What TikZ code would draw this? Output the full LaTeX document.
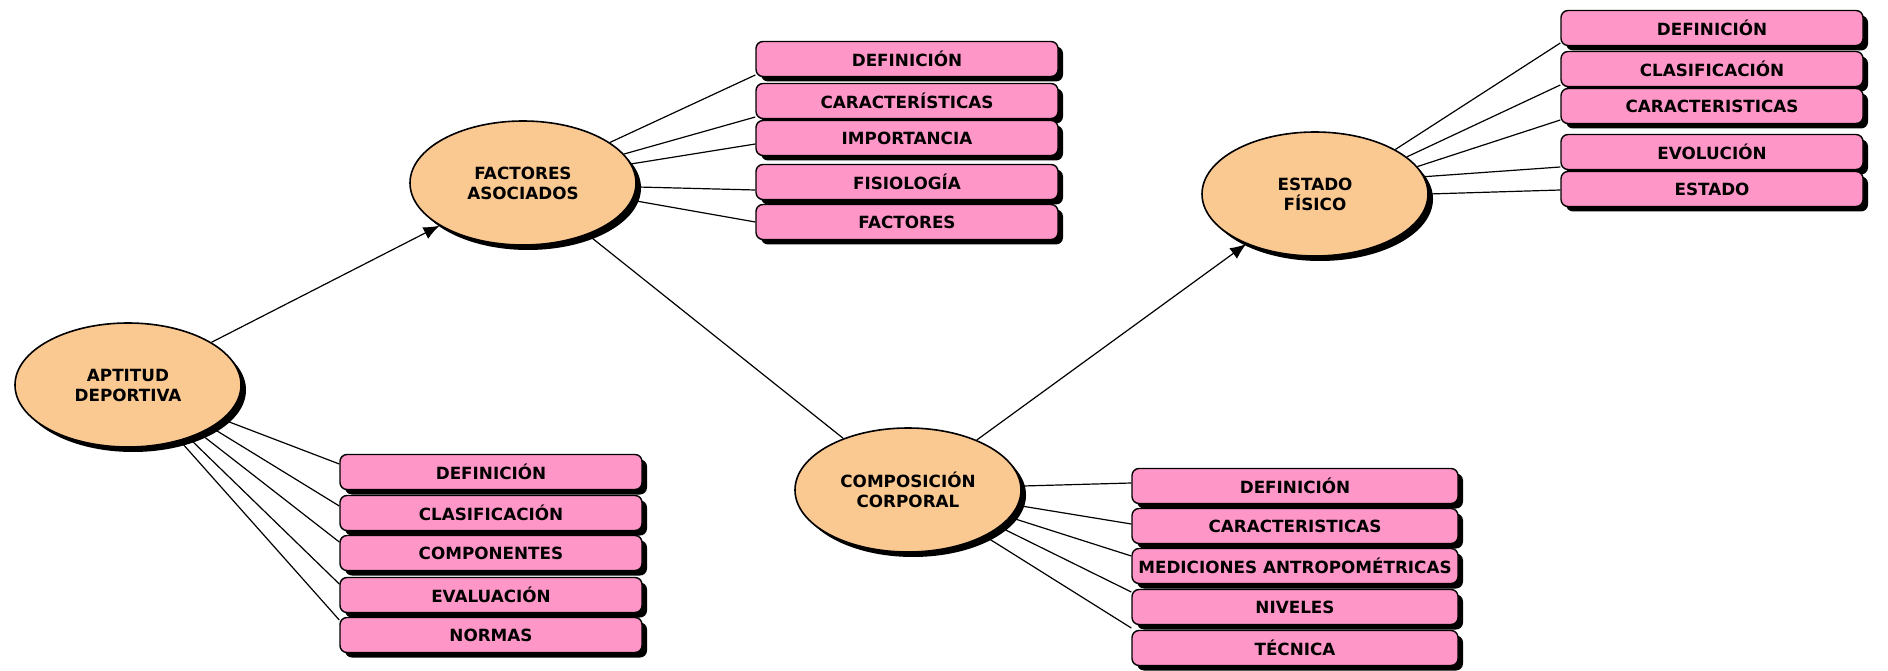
\documentclass[tikz,border=0pt]{standalone}
\usepackage{fontspec}
\setmainfont{DejaVu Sans}
\usepackage{tikz}
\usetikzlibrary{arrows.meta,positioning,shapes.geometric,calc,shadows}
\definecolor{durazno}{RGB}{250,200,145}
\definecolor{rosa}{RGB}{255,150,200}

\begin{document}
\begin{tikzpicture}[x=0.5pt, y=0.5pt, >={Latex[length=8pt,width=6.5pt]}, line width=0.6pt,
  every node/.style={font=\fontsize{8.4}{10}\selectfont\bfseries, align=center},
  sombra/.style={drop shadow={shadow xshift=2.5pt, shadow yshift=-2.5pt, fill=black, opacity=1}},
  tema/.style={ellipse, draw, line width=0.8pt, fill=durazno, minimum width=113pt, minimum height=62pt, inner sep=0pt, sombra},
  item/.style={draw, line width=0.7pt, rounded corners=3.5pt, fill=rosa, minimum width=151pt, minimum height=17.5pt, inner sep=1pt, sombra}]
\useasboundingbox (0,0) rectangle (1888,670);

% temas
\node (apt) [tema] at (128,285) {APTITUD\\DEPORTIVA};
\node (fac) [tema] at (523,487) {FACTORES\\ASOCIADOS};
\node (com) [tema] at (908,180) {COMPOSICIÓN\\CORPORAL};
\node (est) [tema] at (1315,476) {ESTADO\\FÍSICO};

\draw[->] (apt) -- (fac);
\draw (fac) -- (com);
\draw[->] (com) -- (est);

% aptitud deportiva
\node (apt1) [item] at (491,198) {DEFINICIÓN};
\node (apt2) [item] at (491,157) {CLASIFICACIÓN};
\node (apt3) [item] at (491,117) {COMPONENTES};
\node (apt4) [item] at (491,75) {EVALUACIÓN};
\node (apt5) [item] at (491,35) {NORMAS};
\draw (apt.-20) -- ($(apt1.west)+(0,8)$);
\draw (apt.-27) -- ($(apt2.west)+(0,7)$);
\draw (apt.-34) -- ($(apt3.west)+(0,11)$);
\draw (apt.-41) -- ($(apt4.west)+(0,11)$);
\draw (apt.-47) -- ($(apt5.west)+(0,15)$);

% factores asociados
\node (fac1) [item] at (907,611) {DEFINICIÓN};
\node (fac2) [item] at (907,569) {CARACTERÍSTICAS};
\node (fac3) [item] at (907,532) {IMPORTANCIA};
\node (fac4) [item] at (907,488) {FISIOLOGÍA};
\node (fac5) [item] at (907,448) {FACTORES};
\draw (fac.25) -- ($(fac1.west)+(0,-16)$);
\draw (fac.16) -- ($(fac2.west)+(0,-16)$);
\draw (fac.10) -- ($(fac3.west)+(0,-6)$);
\draw (fac.-2) -- ($(fac4.west)+(0,-8)$);
\draw (fac.-9) -- (fac5.west);

% composicion corporal
\node (com1) [item, minimum width=163pt] at (1295,184) {DEFINICIÓN};
\node (com2) [item, minimum width=163pt] at (1295,144) {CARACTERISTICAS};
\node (com3) [item, minimum width=163pt] at (1295,104) {MEDICIONES ANTROPOMÉTRICAS};
\node (com4) [item, minimum width=163pt] at (1295,63) {NIVELES};
\node (com5) [item, minimum width=163pt] at (1295,22) {TÉCNICA};
\draw (com.2) -- ($(com1.west)+(0,3)$);
\draw (com.-8) -- ($(com2.west)+(0,2)$);
\draw (com.-15) -- ($(com3.west)+(0,10)$);
\draw (com.-22) -- ($(com4.west)+(0,15)$);
\draw (com.-31) -- ($(com5.west)+(0,20)$);

% estado fisico
\node (est1) [item] at (1712,642) {DEFINICIÓN};
\node (est2) [item] at (1712,601) {CLASIFICACIÓN};
\node (est3) [item] at (1712,564) {CARACTERISTICAS};
\node (est4) [item] at (1712,518) {EVOLUCIÓN};
\node (est5) [item] at (1712,481) {ESTADO};
\draw (est.29) -- ($(est1.west)+(0,-15)$);
\draw (est.22) -- ($(est2.west)+(0,-16)$);
\draw (est.15) -- ($(est3.west)+(0,-14)$);
\draw (est.9) -- ($(est4.west)+(0,-15)$);
\draw (est.0) -- ($(est5.west)+(0,-1)$);
\end{tikzpicture}
\end{document}
